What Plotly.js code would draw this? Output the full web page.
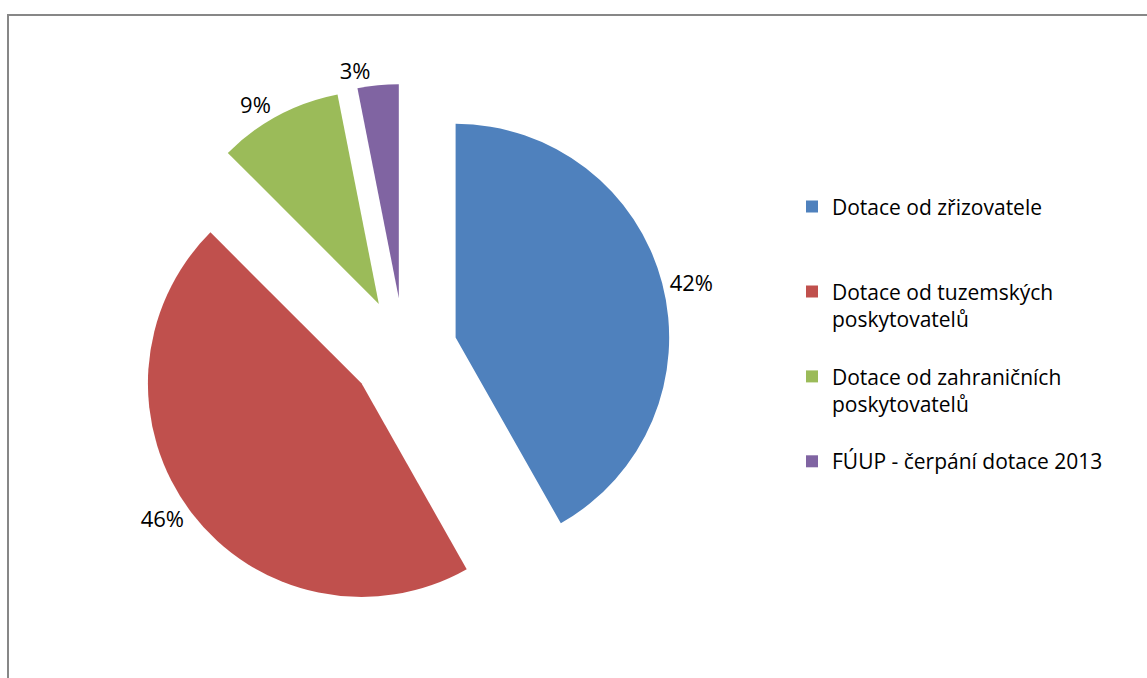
<!DOCTYPE html>
<html>
<head>
<meta charset="utf-8">
<script src="https://cdn.plot.ly/plotly-3.0.1.min.js"></script>
<style>
  html, body { margin: 0; padding: 0; background: #fff; overflow: hidden; }
  #chart { position: absolute; left: 0; top: 0; width: 1147px; height: 678px; }
  #frame { position: absolute; left: 7px; top: 14px; width: 1200px; height: 720px;
           border-left: 2px solid #878787; border-top: 2px solid #878787; pointer-events: none; }
</style>
</head>
<body>
<div id="chart"></div>
<div id="frame"></div>
<script>
const categories = [
  "Dotace od zřizovatele",
  "Dotace od tuzemských<br>poskytovatelů",
  "Dotace od zahraničních<br>poskytovatelů",
  "FÚUP - čerpání dotace 2013"
];
const shares = [41.8, 45.7, 9.4, 3.1];
const colors = ["#4F81BD", "#C0504D", "#9BBB59", "#8064A2"];

// legend entries in the reference each occupy three text lines of height
const legendLabels = categories.map(function (c) {
  const n = c.split("<br>").length;
  let s = c;
  for (let i = n; i < 3; i++) s += "<br> ";
  return s;
});

const FONT = "'Open Sans', 'Noto Sans', sans-serif";

const trace = {
  type: "pie",
  labels: legendLabels,
  values: shares,
  sort: false,
  direction: "clockwise",
  rotation: 0,
  pull: [0.25, 0.25, 0.25, 0.25],
  marker: { colors: colors, line: { width: 0 } },
  textposition: "outside",
  texttemplate: "%{percent:.0%}",
  textfont: { family: FONT, size: 22, color: "#000" },
  hoverinfo: "percent",
  domain: { x: [0.1194, 0.585], y: [0.0885, 0.876] }
};

const layout = {
  width: 1147,
  height: 678,
  margin: { l: 0, r: 0, t: 0, b: 0 },
  paper_bgcolor: "#fff",
  showlegend: true,
  legend: {
    x: 0.6905, xanchor: "left",
    y: 0.725, yanchor: "top",
    valign: "top",
    font: { family: FONT, size: 21, color: "#000" },
    bgcolor: "rgba(0,0,0,0)"
  },
  font: { family: FONT }
};

Plotly.newPlot("chart", [trace], layout, { displayModeBar: false, staticPlot: true });
</script>
</body>
</html>
